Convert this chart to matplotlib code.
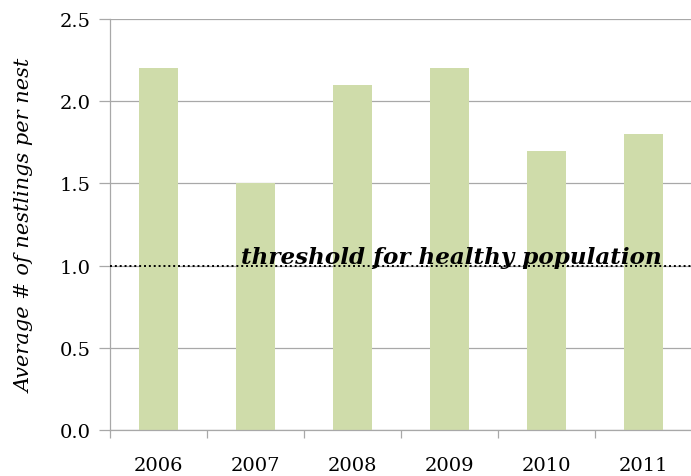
import matplotlib
matplotlib.use('Agg')
import matplotlib.pyplot as plt

# Data
years = ['2006', '2007', '2008', '2009', '2010', '2011']
nestlings = [2.2, 1.5, 2.1, 2.2, 1.7, 1.8]
threshold = 1.0
y_ticks = [0.0, 0.5, 1.0, 1.5, 2.0, 2.5]

bar_color = '#cfdcaa'
grid_color = '#a8a8a8'

plt.rcParams['font.family'] = ['DejaVu Serif']

fig = plt.figure(figsize=(6.91, 4.77), dpi=100)
ax = fig.add_axes([110 / 691, 46 / 477, 582 / 691, 411 / 477])

x = list(range(len(years)))
ax.bar(x, nestlings, width=0.41, color=bar_color, zorder=2)

# Threshold line and label
ax.axhline(threshold, color='black', linestyle=(0, (1, 1.5)), linewidth=1.4, zorder=3)
ax.text(5.19, threshold + 0.015, 'threshold for healthy population',
        ha='right', va='baseline', fontsize=16.6, fontweight='bold',
        fontstyle='italic', zorder=4)

ax.set_xlim(-0.5, len(years) - 0.5)
ax.set_ylim(0, 2.5)
ax.set_yticks(y_ticks)
ax.set_yticklabels([f'{v:.1f}' for v in y_ticks], fontsize=14)
ax.set_xticks(x)
ax.set_xticklabels(years, fontsize=14)
ax.set_xticks([i - 0.5 for i in range(len(years) + 1)], minor=True)

# Gridlines
ax.yaxis.grid(True, color=grid_color, linewidth=0.9, zorder=0)
ax.set_axisbelow(True)

for side in ['top', 'right']:
    ax.spines[side].set_visible(False)
for side in ['left', 'bottom']:
    ax.spines[side].set_color(grid_color)
    ax.spines[side].set_linewidth(0.9)

ax.tick_params(axis='x', which='major', length=0, pad=19)
ax.tick_params(axis='x', which='minor', length=6, color=grid_color, width=0.9)
ax.tick_params(axis='y', length=8, color=grid_color, width=0.9, pad=6)

ax.set_ylabel('Average # of nestlings per nest', fontsize=15,
              fontstyle='italic', labelpad=18)

fig.savefig('out.png', dpi=100)
